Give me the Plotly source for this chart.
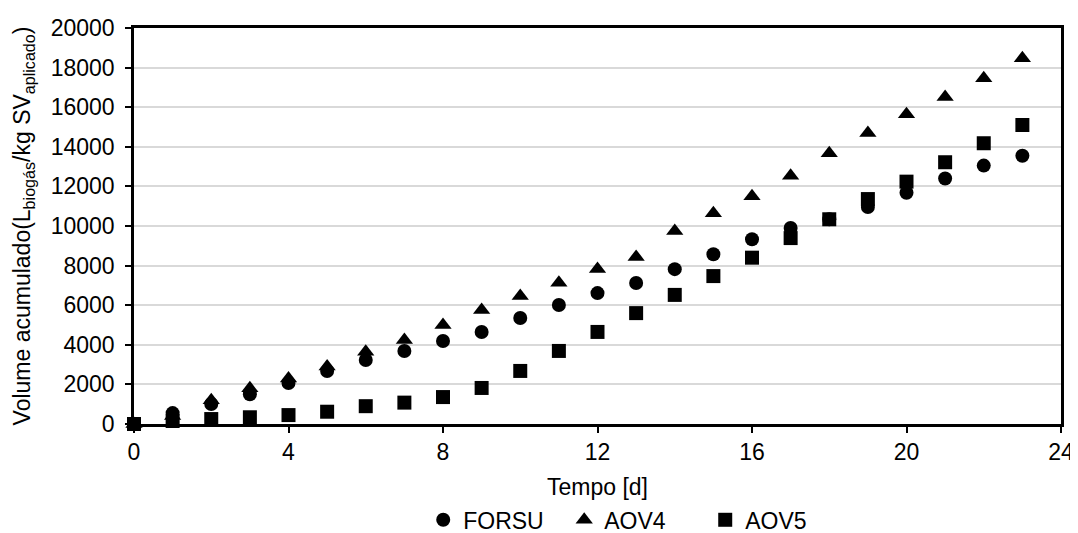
import plotly.graph_objects as go

dias = list(range(24))
forsu = [0, 550, 1010, 1500, 2070, 2680, 3230, 3690, 4190, 4650, 5350, 6010,
         6610, 7120, 7820, 8570, 9330, 9900, 10340, 10960, 11680, 12400, 13050, 13550]
aov4 = [0, 400, 1200, 1800, 2300, 2900, 3650, 4240, 5000, 5760, 6460, 7130,
        7830, 8440, 9750, 10650, 11500, 12540, 13680, 14700, 15650, 16520, 17460, 18470]
aov5 = [0, 150, 250, 340, 450, 620, 900, 1080, 1360, 1820, 2680, 3690,
        4650, 5600, 6520, 7470, 8400, 9390, 10340, 11360, 12240, 13220, 14180, 15100]

series = [("FORSU", forsu, "circle"), ("AOV4", aov4, "triangle-up"), ("AOV5", aov5, "square")]

fig = go.Figure()
for name, vals, sym in series:
    fig.add_trace(go.Scatter(
        x=dias, y=vals, mode="markers", name=name, cliponaxis=False,
        marker=dict(symbol=sym, size=14 if sym != "triangle-up" else 15, color="black"),
    ))

font = "Liberation Sans, Arial, sans-serif"
FS = 23
# page has an 8px body margin, so the figure is sized to fit the 1078x533 window
fig.update_layout(
    width=1070, height=525,
    margin=dict(l=126, r=17, t=20, b=109, autoexpand=False),
    paper_bgcolor="white", plot_bgcolor="white",
    font=dict(family=font, size=FS, color="black"),
    showlegend=True,
    legend=dict(orientation="h", x=0.312, xanchor="left", y=-0.242, yanchor="middle",
                font=dict(size=FS), itemwidth=30, tracegroupgap=0,
                entrywidthmode="pixels", entrywidth=96),
    xaxis=dict(range=[0, 24], dtick=4, tick0=0, showgrid=False, zeroline=False,
               automargin=False,
               showline=True, linecolor="black", linewidth=2.5, mirror=True,
               ticks="outside", ticklen=6, tickwidth=2, tickcolor="black",
               title=dict(text="Tempo [d]", standoff=15, font=dict(size=FS)),
               tickfont=dict(size=FS)),
    yaxis=dict(range=[0, 20000], dtick=2000, tick0=0, tickformat="d",
               showgrid=True, gridcolor="#d9d9d9", gridwidth=2, zeroline=False,
               automargin=False, ticklabelstandoff=6,
               showline=True, linecolor="black", linewidth=2.5, mirror=True,
               ticks="outside", ticklen=6, tickwidth=2, tickcolor="black",
               title=dict(text="Volume acumulado(L<sub>biogás</sub>/kg SV<sub>aplicado</sub>)",
                          standoff=14, font=dict(size=FS)),
               tickfont=dict(size=FS)),
)

fig.write_html("out.html")
